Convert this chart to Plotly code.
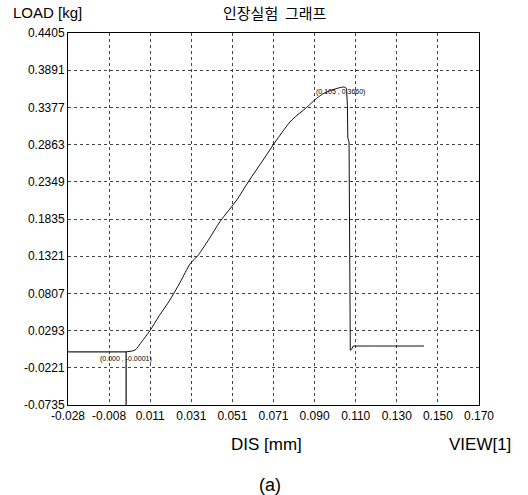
import plotly.graph_objects as go

# Load-displacement curve (DIS [mm], LOAD [kg]) - rising part up to the peak
rise_dis = [0.000, 0.0043, 0.0075, 0.0115, 0.0160, 0.0211, 0.0260, 0.0310, 0.0343, 0.0400, 0.0452,
            0.0533, 0.0589, 0.0660, 0.0725, 0.0798, 0.0870, 0.0918, 0.0958, 0.1000, 0.1030, 0.1050]
rise_load = [-0.0001, 0.0025, 0.0140, 0.0293, 0.0500, 0.0716, 0.0960, 0.1223, 0.1321, 0.1560, 0.1798,
             0.2098, 0.2350, 0.2650, 0.2927, 0.3203, 0.3377, 0.3503, 0.3580, 0.3625, 0.3650, 0.3660]
# Fracture drop and tail after the peak
drop_dis = [0.1050, 0.1062, 0.1066, 0.1068, 0.1074, 0.1076, 0.1077, 0.1080, 0.1086, 0.1094, 0.1200, 0.1435]
drop_load = [0.3660, 0.3640, 0.3400, 0.2954, 0.2900, 0.0500, 0.0100, 0.0020, 0.0035, 0.0080, 0.0080, 0.0080]

# Cursor lines at the starting point
cursor_x = [-0.028, 0.000, 0.000]
cursor_y = [-0.0001, -0.0001, -0.0735]

x_tickvals = [-0.028, -0.0082, 0.0116, 0.0314, 0.0512, 0.071, 0.0908, 0.1106, 0.1304, 0.1502, 0.170]
x_ticktext = ["-0.028", "-0.008", "0.011", "0.031", "0.051", "0.071", "0.090", "0.110", "0.130", "0.150", "0.170"]
y_tickvals = [0.4405, 0.3891, 0.3377, 0.2863, 0.2349, 0.1835, 0.1321, 0.0807, 0.0293, -0.0221, -0.0735]
y_ticktext = ["0.4405", "0.3891", "0.3377", "0.2863", "0.2349", "0.1835", "0.1321", "0.0807", "0.0293", "-0.0221", "-0.0735"]

start_pt = (0.000, -0.0001)
peak_pt = (0.105, 0.3660)

fig = go.Figure()
fig.add_trace(go.Scatter(x=cursor_x, y=cursor_y, mode="lines",
                         line=dict(color="#222", width=1.3), hoverinfo="skip"))
fig.add_trace(go.Scatter(x=rise_dis, y=rise_load, mode="lines",
                         line=dict(color="#111", width=1, shape="spline", smoothing=0.8)))
fig.add_trace(go.Scatter(x=drop_dis, y=drop_load, mode="lines",
                         line=dict(color="#111", width=1)))

font_main = "Liberation Sans, Arial, sans-serif"
fig.update_layout(
    width=528, height=495,
    margin=dict(l=68, r=49, t=33, b=90),
    paper_bgcolor="white", plot_bgcolor="white",
    showlegend=False,
    font=dict(family=font_main, color="black", size=12),
    xaxis=dict(range=[-0.028, 0.170], tickvals=x_tickvals, ticktext=x_ticktext,
               showgrid=True, gridcolor="#444", griddash="dot", gridwidth=1,
               showline=True, mirror=True, linecolor="black", linewidth=1,
               zeroline=False, ticks="", tickfont=dict(size=12, family=font_main)),
    yaxis=dict(range=[-0.0735, 0.4405], tickvals=y_tickvals, ticktext=y_ticktext,
               showgrid=True, gridcolor="#444", griddash="dot", gridwidth=1,
               showline=True, mirror=True, linecolor="black", linewidth=1,
               zeroline=False, ticks="", tickfont=dict(size=12, family=font_main)),
)

def txt(x, y, s, size, family=font_main, xa="center"):
    fig.add_annotation(x=x, y=y, xref="paper", yref="paper", text=s, showarrow=False,
                       xanchor=xa, yanchor="middle", font=dict(size=size, family=family, color="black"))

txt(-0.0487, 1.0538, "LOAD [kg]", 15)
txt(0.5036, 1.0538, "인장실험  그래프", 15, family="Noto Sans CJK KR")
txt(0.4818, -0.1075, "DIS [mm]", 17)
txt(1.0024, -0.1075, "VIEW[1]", 17)
txt(0.4915, -0.215, "(a)", 18)

narrow = "Liberation Sans Narrow, Arial Narrow, sans-serif"
fig.add_annotation(x=start_pt[0], y=start_pt[1], xref="x", yref="y",
                   text=f"({start_pt[0]:.3f} , {start_pt[1]:.4f})", showarrow=False,
                   xanchor="center", yanchor="top", yshift=-1,
                   font=dict(size=7, family=narrow, color="black"))
fig.add_annotation(x=peak_pt[0], y=peak_pt[1], xref="x", yref="y",
                   text=f"({peak_pt[0]:.3f} , {peak_pt[1]:.4f})", showarrow=False,
                   xanchor="center", yanchor="middle", yshift=-5, xshift=-4,
                   font=dict(size=7, family=narrow, color="black"))

# remove the default 8px page margin so the figure fills the window exactly
fig.write_html("out.html", config={"displayModeBar": False},
               post_script="document.body.style.margin='0';")
